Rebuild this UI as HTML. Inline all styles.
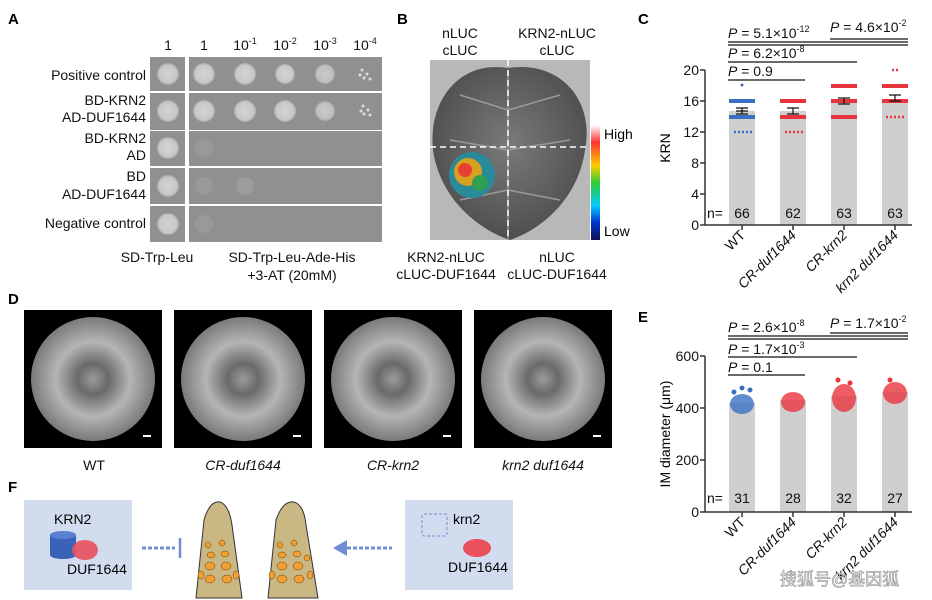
<!DOCTYPE html>
<html><head><meta charset="utf-8"><style>
body{margin:0;background:#fff}
svg{display:block;font-family:"Liberation Sans","Noto Sans CJK SC",sans-serif}
</style></head><body>
<svg width="932" height="600" viewBox="0 0 932 600" xmlns="http://www.w3.org/2000/svg">
<rect width="932" height="600" fill="#fff"/>
<defs>
<radialGradient id="col" cx="0.5" cy="0.5" r="0.5"><stop offset="0" stop-color="#d4d4d4"/><stop offset="0.8" stop-color="#c8c8c8"/><stop offset="1" stop-color="#a8a8a8"/></radialGradient>
<radialGradient id="leaf" cx="0.5" cy="0.45" r="0.6"><stop offset="0" stop-color="#7a7a7a"/><stop offset="1" stop-color="#4a4a4a"/></radialGradient>
<radialGradient id="cob" cx="0.5" cy="0.5" r="0.5"><stop offset="0" stop-color="#9a9a9a"/><stop offset="0.25" stop-color="#6a6a6a"/><stop offset="0.6" stop-color="#b5b5b5"/><stop offset="1" stop-color="#7a7a7a"/></radialGradient>
<linearGradient id="cbar" x1="0" y1="0" x2="0" y2="1"><stop offset="0" stop-color="#fff"/><stop offset="0.15" stop-color="#f33"/><stop offset="0.35" stop-color="#fc0"/><stop offset="0.5" stop-color="#3c3"/><stop offset="0.7" stop-color="#0cf"/><stop offset="0.85" stop-color="#03c"/><stop offset="1" stop-color="#115"/></linearGradient>
</defs>
<g font-weight="bold" font-size="15"><text x="8" y="24">A</text><text x="397" y="24">B</text><text x="638" y="24">C</text><text x="8" y="304">D</text><text x="638" y="322">E</text><text x="8" y="492">F</text></g>

<!-- Panel A -->
<g font-size="14" fill="#111" text-anchor="middle">
<text x="168" y="50">1</text><text x="204" y="50">1</text>
<text x="245" y="50">10<tspan font-size="9" dy="-6">-1</tspan></text>
<text x="285" y="50">10<tspan font-size="9" dy="-6">-2</tspan></text>
<text x="325" y="50">10<tspan font-size="9" dy="-6">-3</tspan></text>
<text x="365" y="50">10<tspan font-size="9" dy="-6">-4</tspan></text>
</g>
<g fill="#909090">
<rect x="150" y="57" width="35" height="34"/><rect x="150" y="93" width="35" height="37"/><rect x="150" y="131" width="35" height="35"/><rect x="150" y="168" width="35" height="36"/><rect x="150" y="206" width="35" height="36"/>
<rect x="189" y="57" width="193" height="34"/><rect x="189" y="93" width="193" height="37"/><rect x="189" y="131" width="193" height="35"/><rect x="189" y="168" width="193" height="36"/><rect x="189" y="206" width="193" height="36"/>
</g>
<g fill="url(#col)">
<circle cx="168" cy="74" r="11"/><circle cx="168" cy="111" r="11"/><circle cx="168" cy="148" r="11"/><circle cx="168" cy="186" r="11"/><circle cx="168" cy="224" r="11"/>
<circle cx="204" cy="74" r="11"/><circle cx="245" cy="74" r="11"/><circle cx="285" cy="74" r="10"/><circle cx="325" cy="74" r="10" opacity="0.85"/>
<circle cx="204" cy="111" r="11"/><circle cx="245" cy="111" r="11"/><circle cx="285" cy="111" r="11"/><circle cx="325" cy="111" r="10" opacity="0.85"/>
</g>
<g fill="#ddd"><circle cx="362" cy="70" r="1.5"/><circle cx="367" cy="74" r="1.5"/><circle cx="364" cy="78" r="1.5"/><circle cx="370" cy="79" r="1.5"/><circle cx="360" cy="75" r="1.5"/>
<circle cx="363" cy="106" r="1.5"/><circle cx="368" cy="110" r="1.5"/><circle cx="364" cy="114" r="1.5"/><circle cx="370" cy="115" r="1.5"/><circle cx="361" cy="111" r="1.5"/></g>
<g fill="#999"><circle cx="204" cy="148" r="9"/><circle cx="204" cy="186" r="9"/><circle cx="245" cy="186" r="9" fill="#9c9c9c"/><circle cx="204" cy="224" r="9"/></g>
<g font-size="14" fill="#111" text-anchor="end">
<text x="146" y="80">Positive control</text>
<text x="146" y="105">BD-KRN2</text><text x="146" y="122">AD-DUF1644</text>
<text x="146" y="143">BD-KRN2</text><text x="146" y="160">AD</text>
<text x="146" y="181">BD</text><text x="146" y="199">AD-DUF1644</text>
<text x="146" y="228">Negative control</text>
</g>
<g font-size="14" fill="#111" text-anchor="middle">
<text x="157" y="262">SD-Trp-Leu</text><text x="292" y="262">SD-Trp-Leu-Ade-His</text><text x="292" y="280">+3-AT (20mM)</text>
</g>

<!-- Panel B -->
<g font-size="14" fill="#111" text-anchor="middle">
<text x="460" y="38">nLUC</text><text x="460" y="55">cLUC</text>
<text x="557" y="38">KRN2-nLUC</text><text x="557" y="55">cLUC</text>
<text x="446" y="262">KRN2-nLUC</text><text x="446" y="279">cLUC-DUF1644</text>
<text x="557" y="262">nLUC</text><text x="557" y="279">cLUC-DUF1644</text>
</g>
<rect x="430" y="60" width="160" height="180" fill="#b8b8b8"/>
<path d="M508 68 C560 60 595 100 585 150 C578 200 540 230 510 240 C480 230 440 200 433 150 C428 100 460 60 508 68Z" fill="url(#leaf)"/>
<path d="M508 70 L508 240 M508 110 L460 95 M508 110 L560 95 M508 150 L450 140 M508 150 L570 140 M508 190 L460 200 M508 190 L560 200" stroke="#9a9a9a" stroke-width="1.5" fill="none"/>
<line x1="508" y1="60" x2="508" y2="240" stroke="#fff" stroke-width="1.5" stroke-dasharray="6 4"/>
<line x1="430" y1="147" x2="600" y2="147" stroke="#fff" stroke-width="1.5" stroke-dasharray="6 4"/>
<circle cx="472" cy="175" r="23" fill="#2a8a9a"/>
<circle cx="468" cy="172" r="14" fill="#d8a020"/><circle cx="465" cy="170" r="7" fill="#e84030"/><circle cx="480" cy="183" r="8" fill="#30a050"/>
<rect x="591" y="125" width="9" height="115" fill="url(#cbar)"/>
<text x="604" y="139" font-size="14">High</text><text x="604" y="236" font-size="14">Low</text>

<!-- Panel C -->
<g font-size="14" fill="#111">
<text x="728" y="38"><tspan font-style="italic">P</tspan> = 5.1×10<tspan font-size="9" dy="-6">-12</tspan></text>
<text x="830" y="32"><tspan font-style="italic">P</tspan> = 4.6×10<tspan font-size="9" dy="-6">-2</tspan></text>
<text x="728" y="58"><tspan font-style="italic">P</tspan> = 6.2×10<tspan font-size="9" dy="-6">-8</tspan></text>
<text x="728" y="76"><tspan font-style="italic">P</tspan> = 0.9</text>
</g>
<g stroke="#111" stroke-width="1.2">
<line x1="728" y1="42" x2="908" y2="42"/><line x1="728" y1="45" x2="908" y2="45"/><line x1="830" y1="39" x2="908" y2="39"/>
<line x1="728" y1="62" x2="857" y2="62"/><line x1="728" y1="80" x2="805" y2="80"/>
</g>
<g fill="#cfcfcf"><rect x="729" y="111" width="26" height="114"/><rect x="780" y="111" width="26" height="114"/><rect x="831" y="101" width="26" height="124"/><rect x="882" y="99" width="26" height="126"/></g>
<g stroke="#3a6fc4" stroke-width="4"><line x1="729" y1="101" x2="755" y2="101"/><line x1="729" y1="117" x2="755" y2="117"/></g>
<g stroke="#3a6fc4" stroke-width="2.5" stroke-dasharray="2 2"><line x1="734" y1="132" x2="752" y2="132"/></g>
<circle cx="742" cy="85" r="1.5" fill="#3a6fc4"/>
<g stroke="#e8343c" stroke-width="4"><line x1="780" y1="101" x2="806" y2="101"/><line x1="780" y1="117" x2="806" y2="117"/><line x1="831" y1="86" x2="857" y2="86"/><line x1="831" y1="101" x2="857" y2="101"/><line x1="831" y1="117" x2="857" y2="117"/><line x1="882" y1="86" x2="908" y2="86"/><line x1="882" y1="101" x2="908" y2="101"/></g>
<g stroke="#e8343c" stroke-width="2.5" stroke-dasharray="2 2"><line x1="785" y1="132" x2="803" y2="132"/><line x1="886" y1="117" x2="904" y2="117"/><line x1="892" y1="70" x2="899" y2="70"/></g>
<g stroke="#111" stroke-width="1.2" fill="none"><path d="M736 111h12M742 108v6M736 108h12M736 114h12M787 108h12M787 114h12M793 108v6M838 98h12M838 104h12M844 98v6M889 95h12M889 101h12M895 95v6"/></g>
<g stroke="#333" stroke-width="1.5" fill="none"><path d="M705 70V225H912M700 70h5M700 101h5M700 132h5M700 163h5M700 194h5M700 225h5M742 225v5M793 225v5M844 225v5M895 225v5"/></g>
<g font-size="14" fill="#111" text-anchor="end"><text x="699" y="75">20</text><text x="699" y="106">16</text><text x="699" y="137">12</text><text x="699" y="168">8</text><text x="699" y="199">4</text><text x="699" y="230">0</text></g>
<g font-size="14" fill="#111"><text x="707" y="218">n=</text><text x="742" y="218" text-anchor="middle">66</text><text x="793" y="218" text-anchor="middle">62</text><text x="844" y="218" text-anchor="middle">63</text><text x="895" y="218" text-anchor="middle">63</text></g>
<text x="670" y="148" font-size="14" text-anchor="middle" transform="rotate(-90 670 148)">KRN</text>
<g font-size="14" fill="#111" text-anchor="end">
<text transform="translate(746 236) rotate(-45)">WT</text>
<text font-style="italic" transform="translate(797 236) rotate(-45)">CR-duf1644</text>
<text font-style="italic" transform="translate(848 236) rotate(-45)">CR-krn2</text>
<text font-style="italic" transform="translate(899 236) rotate(-45)">krn2 duf1644</text>
</g>

<!-- Panel E -->
<g font-size="14" fill="#111">
<text x="728" y="332"><tspan font-style="italic">P</tspan> = 2.6×10<tspan font-size="9" dy="-6">-8</tspan></text>
<text x="830" y="328"><tspan font-style="italic">P</tspan> = 1.7×10<tspan font-size="9" dy="-6">-2</tspan></text>
<text x="728" y="354"><tspan font-style="italic">P</tspan> = 1.7×10<tspan font-size="9" dy="-6">-3</tspan></text>
<text x="728" y="372"><tspan font-style="italic">P</tspan> = 0.1</text>
</g>
<g stroke="#111" stroke-width="1.2">
<line x1="728" y1="336" x2="908" y2="336"/><line x1="728" y1="339" x2="908" y2="339"/><line x1="830" y1="333" x2="908" y2="333"/>
<line x1="728" y1="357" x2="857" y2="357"/><line x1="728" y1="375" x2="805" y2="375"/>
</g>
<g fill="#cfcfcf"><rect x="729" y="403" width="26" height="109"/><rect x="780" y="400" width="26" height="112"/><rect x="831" y="396" width="26" height="116"/><rect x="882" y="392" width="26" height="120"/></g>
<g fill="#3a6fc4"><ellipse cx="742" cy="404" rx="12" ry="10" opacity="0.8"/><circle cx="734" cy="392" r="2.5"/><circle cx="750" cy="390" r="2.5"/><circle cx="742" cy="388" r="2.5"/></g>
<g fill="#e8343c"><ellipse cx="793" cy="402" rx="12" ry="10" opacity="0.8"/><ellipse cx="844" cy="398" rx="12" ry="14" opacity="0.8"/><ellipse cx="895" cy="393" rx="12" ry="11" opacity="0.8"/><circle cx="838" cy="380" r="2.5"/><circle cx="850" cy="383" r="2.5"/><circle cx="890" cy="380" r="2.5"/></g>
<g stroke="#333" stroke-width="1.5" fill="none"><path d="M705 356V512H912M700 356h5M700 408h5M700 460h5M700 512h5M742 512v5M793 512v5M844 512v5M895 512v5"/></g>
<g font-size="14" fill="#111" text-anchor="end"><text x="699" y="361">600</text><text x="699" y="413">400</text><text x="699" y="465">200</text><text x="699" y="517">0</text></g>
<g font-size="14" fill="#111"><text x="707" y="503">n=</text><text x="742" y="503" text-anchor="middle">31</text><text x="793" y="503" text-anchor="middle">28</text><text x="844" y="503" text-anchor="middle">32</text><text x="895" y="503" text-anchor="middle">27</text></g>
<text x="670" y="434" font-size="14" text-anchor="middle" transform="rotate(-90 670 434)">IM diameter (μm)</text>
<g font-size="14" fill="#111" text-anchor="end">
<text transform="translate(746 523) rotate(-45)">WT</text>
<text font-style="italic" transform="translate(797 523) rotate(-45)">CR-duf1644</text>
<text font-style="italic" transform="translate(848 523) rotate(-45)">CR-krn2</text>
<text font-style="italic" transform="translate(899 523) rotate(-45)">krn2 duf1644</text>
</g>

<!-- Panel D -->
<g>
<rect x="24" y="310" width="138" height="138" fill="#000"/><circle cx="93" cy="379" r="62" fill="url(#cob)"/>
<rect x="174" y="310" width="138" height="138" fill="#000"/><circle cx="243" cy="379" r="62" fill="url(#cob)"/>
<rect x="324" y="310" width="138" height="138" fill="#000"/><circle cx="393" cy="379" r="62" fill="url(#cob)"/>
<rect x="474" y="310" width="138" height="138" fill="#000"/><circle cx="543" cy="379" r="62" fill="url(#cob)"/>
<g stroke="#fff" stroke-width="2"><line x1="143" y1="436" x2="151" y2="436"/><line x1="293" y1="436" x2="301" y2="436"/><line x1="443" y1="436" x2="451" y2="436"/><line x1="593" y1="436" x2="601" y2="436"/></g>
</g>
<g font-size="14" fill="#111" text-anchor="middle"><text x="94" y="470">WT</text><text x="243" y="470" font-style="italic">CR-duf1644</text><text x="393" y="470" font-style="italic">CR-krn2</text><text x="543" y="470" font-style="italic">krn2 duf1644</text></g>

<!-- Panel F -->
<rect x="24" y="500" width="108" height="90" fill="#d2dcef"/>
<rect x="405" y="500" width="108" height="90" fill="#d2dcef"/>
<text x="54" y="524" font-size="14">KRN2</text>
<rect x="50" y="535" width="26" height="20" fill="#3a63b8"/><ellipse cx="63" cy="535" rx="13" ry="4" fill="#5a7fd0"/><ellipse cx="63" cy="555" rx="13" ry="4" fill="#3a63b8"/>
<ellipse cx="85" cy="550" rx="13" ry="10" fill="#e8505c" opacity="0.9"/>
<text x="67" y="574" font-size="14">DUF1644</text>
<line x1="142" y1="548" x2="175" y2="548" stroke="#6e8fd4" stroke-width="3" stroke-dasharray="4 2"/><line x1="180" y1="538" x2="180" y2="558" stroke="#6e8fd4" stroke-width="2.5"/>
<path d="M196 598 L204 520 Q210 500 220 502 Q229 505 232 525 L242 598Z" fill="#c9b784" stroke="#333"/>
<path d="M268 598 L276 520 Q283 500 294 502 Q304 505 306 525 L318 598Z" fill="#c9b784" stroke="#333"/>
<g fill="#f0a030" stroke="#6a4010" stroke-width="0.5">
<ellipse cx="208" cy="545" rx="3" ry="3"/><ellipse cx="222" cy="543" rx="3" ry="3"/><ellipse cx="211" cy="555" rx="4" ry="3"/><ellipse cx="225" cy="554" rx="4" ry="3"/><ellipse cx="210" cy="566" rx="5" ry="4"/><ellipse cx="226" cy="566" rx="5" ry="4"/><ellipse cx="210" cy="579" rx="5" ry="4"/><ellipse cx="227" cy="579" rx="5" ry="4"/><ellipse cx="236" cy="575" rx="3" ry="4"/><ellipse cx="201" cy="575" rx="3" ry="4"/>
<ellipse cx="280" cy="545" rx="3" ry="3"/><ellipse cx="294" cy="543" rx="3" ry="3"/><ellipse cx="282" cy="555" rx="4" ry="3"/><ellipse cx="297" cy="554" rx="4" ry="3"/><ellipse cx="282" cy="566" rx="5" ry="4"/><ellipse cx="298" cy="566" rx="5" ry="4"/><ellipse cx="282" cy="579" rx="5" ry="4"/><ellipse cx="299" cy="579" rx="5" ry="4"/><ellipse cx="310" cy="575" rx="3" ry="4"/><ellipse cx="272" cy="575" rx="3" ry="4"/><ellipse cx="307" cy="558" rx="3" ry="3"/>
</g>
<path d="M333 548 L347 540 L347 556Z" fill="#6e8fd4"/><line x1="347" y1="548" x2="392" y2="548" stroke="#6e8fd4" stroke-width="3" stroke-dasharray="4 2"/>
<rect x="422" y="514" width="25" height="22" fill="none" stroke="#6e8fd4" stroke-dasharray="3 2" rx="2"/>
<text x="453" y="524" font-size="14">krn2</text>
<ellipse cx="477" cy="548" rx="14" ry="9" fill="#e8505c"/>
<text x="448" y="572" font-size="14">DUF1644</text>

<text x="780" y="585" font-size="17" fill="#fff" stroke="#888" stroke-width="0.6">搜狐号@基因狐</text>
</svg>
</body></html>
